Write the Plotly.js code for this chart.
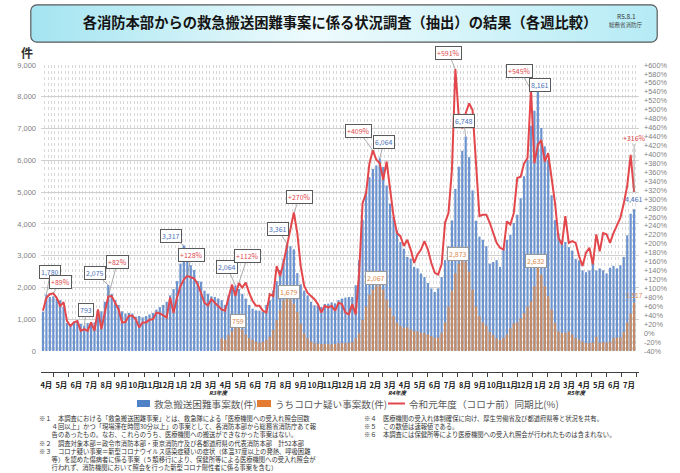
<!DOCTYPE html>
<html><head><meta charset="utf-8">
<script src="https://cdn.plot.ly/plotly-3.0.1.min.js"></script>
<style>html,body{margin:0;padding:0;background:#fff;}#chart{width:680px;height:473px;}</style>
</head><body><div id="chart"></div>
<script>
// ---- data (weekly, first survey week starting 2020-04-06) ----
const firstWeekMid = Date.UTC(2020, 3, 9);
const blueCounts = [
 1240,1780,1700,1720,1650,1600,1400,880,820,920,
 960,860,793,880,870,900,1080,1250,1550,2075,
 1800,1600,1450,1250,1180,1200,1180,1080,1100,1060,
 1100,1150,1200,1300,1380,1450,1550,1750,1950,2200,
 2750,3317,2900,2700,2550,2200,2180,1900,1800,1720,
 1700,1650,1600,1450,1750,2000,2064,1950,1800,1650,
 1450,1330,1280,1270,1230,1450,1600,1900,2200,2550,
 2900,3361,3300,3200,2450,2100,1900,1750,1550,1440,
 1430,1390,1480,1490,1530,1500,1600,1650,1680,1700,
 1700,2070,2860,4130,5000,5470,5730,5840,6064,5790,
 5210,4640,4220,3800,3430,3220,2960,2910,2650,2600,
 2440,2330,2140,1970,1860,1970,2330,2860,3300,4110,
 5100,5800,6300,6748,6100,5055,4100,3600,3500,3300,
 2750,2800,2860,2650,3240,3500,3660,4030,4290,4810,
 5500,6020,7090,7560,8161,7020,6440,6020,4900,4120,
 3700,3480,3430,3270,3160,2900,2850,2540,2480,2540,
 2900,2540,2600,2540,2440,2620,2680,2600,2700,2960,
 3640,4320,4461];
const covidCounts = [
 null,null,null,null,null,null,null,null,null,null,
 null,null,null,null,null,null,null,null,null,null,
 null,null,null,null,null,null,null,null,null,null,
 null,null,null,null,null,null,null,null,null,null,
 null,null,null,null,null,null,null,null,null,null,
 null,null,
 400,360,500,620,730,759,680,520,400,350,
 300,260,290,350,450,660,970,1280,1590,1679,
 1620,1490,1230,860,550,400,300,250,230,220,
 220,220,210,220,240,250,250,260,280,400,
 560,980,1400,1770,1930,2040,2067,1930,1620,1360,
 1100,890,790,730,750,680,620,620,570,570,
 520,470,410,430,570,900,1400,1900,2450,2750,
 2873,2800,2500,1930,1400,1100,900,800,600,500,
 400,350,420,520,710,870,900,1030,1190,1400,
 1560,2040,2632,2400,2040,1720,1300,880,620,570,
 570,620,520,410,360,300,250,250,270,450,
 260,280,270,290,410,420,430,600,900,1180,
 1517];
const ratioPct = [
 50,79,87,89,79,61,69,27,16,24,
 27,5,9,5,24,5,53,9,46,82,
 83,69,53,24,25,39,39,31,13,24,
 24,30,31,46,44,40,35,80,45,80,
 105,120,128,125,122,110,90,68,62,76,
 68,61,53,50,80,109,83,112,102,113,
 90,72,61,61,50,46,87,83,150,128,
 158,195,232,270,224,150,106,90,83,76,
 65,46,61,57,61,50,68,65,46,42,
 65,42,135,291,313,380,409,388,380,343,
 384,321,262,224,217,195,209,187,157,176,
 187,206,187,157,135,131,154,247,269,366,
 591,484,458,492,514,499,380,262,265,265,
 247,224,202,191,187,250,243,269,347,350,
 380,392,545,380,421,432,384,403,343,291,
 213,198,262,202,206,202,172,150,180,191,
 154,221,183,224,221,202,224,243,258,290,
 330,399,316];
const seriesNames = ['救急搬送困難事案数(件)', 'うちコロナ疑い事案数(件)', '令和元年度（コロナ前）同期比(%)'];
const fiscalYears = [['2020-04-01','R2年度'],['2021-04-01','R3年度'],['2022-04-01','R4年度'],['2023-04-01','R5年度']];
const pctTicks = [];
for (let v = -40; v <= 600; v += 20) pctTicks.push(v);
const pctTickText = pctTicks.map(v => (v > 0 ? '+' : '') + v + '%');

const dates = blueCounts.map((_, i) => new Date(firstWeekMid + i * 7 * 86400000).toISOString().slice(0, 10));

const FONT = '"Noto Sans CJK JP", "Noto Sans", sans-serif';
const NUMFONT = '"Liberation Sans", Arial, sans-serif';
const BLUE = '#6b93d0', ORANGE = '#c48b66', RED = '#e3474b';
const px = v => (v - 41) / 598;
const py = v => (372 - v) / 307;

const traces = [
  {type:'bar', name:seriesNames[0], x:dates, y:blueCounts, xaxis:'x', yaxis:'y',
   marker:{color:BLUE, line:{width:0}}, showlegend:false, hoverinfo:'x+y'},
  {type:'bar', name:seriesNames[1], x:dates, y:covidCounts, xaxis:'x', yaxis:'y',
   marker:{color:ORANGE, line:{width:0}}, showlegend:false, hoverinfo:'x+y'},
  {type:'scatter', mode:'lines', name:seriesNames[2], x:dates, y:ratioPct, xaxis:'x2', yaxis:'y2',
   line:{color:RED, width:2}, showlegend:false, hoverinfo:'x+y'}
];

const fmt = v => v.toLocaleString('en-US');
const ann = [];
function lab(kind, i, ax, ay, boxed) {
  let x = dates[i], y, text, color, xref = 'x', yref = 'y', bc = '#5a5a5a';
  if (kind === 'b') { y = blueCounts[i]; text = fmt(y); color = '#4a72b8'; }
  else if (kind === 'o') { y = covidCounts[i]; text = fmt(y); color = '#d98a4e'; bc = '#9a9a9a'; }
  else { y = ratioPct[i]; text = '+' + y + '%'; color = '#e0474c'; xref = 'x2'; yref = 'y2'; }
  ann.push({xref, yref, x, y, text, showarrow:true, arrowhead:0, arrowwidth:0.7, arrowcolor:'#8a8a8a',
    ax, ay, standoff:0, font:{size:7, color, family:FONT},
    bgcolor: boxed ? '#ffffff' : 'rgba(0,0,0,0)', bordercolor: boxed ? bc : 'rgba(0,0,0,0)',
    borderwidth: boxed ? 1 : 0, borderpad: 1});
}
lab('b', 1, 4, -22, true);
lab('r', 3, 7, -11, true);
lab('b', 12, 2, -16, true);
lab('b', 19, -13, -12, true);
lab('r', 19, 9, -34, true);
lab('b', 41, -13, -10, true);
lab('r', 42, 4, -21, true);
lab('b', 56, -8, -18, true);
lab('r', 57, 9, -27, true);
lab('o', 57, -1, -6, true);
lab('b', 71, -9, -15, true);
lab('r', 73, 6, -15, true);
lab('o', 71, 2, -6, true);
lab('r', 96, -14, -19, true);
lab('b', 98, 4, -16, true);
lab('o', 98, -4, -7, true);
lab('r', 120, -7, -16, true);
lab('b', 123, -2, -16, true);
lab('o', 122, -4, -6, true);
lab('r', 142, -11, -19, true);
lab('b', 144, 2, -7, true);
lab('o', 144, -2, -6, true);
lab('r', 172, 0, -54, false);
const last = blueCounts.length - 1;
ann.push({xref:'x', yref:'y', x:dates[last], y:blueCounts[last], text:fmt(blueCounts[last]), showarrow:false,
  xanchor:'center', yanchor:'middle', yshift:10, font:{size:7, color:'#4a72b8', family:FONT}});
ann.push({xref:'x', yref:'y', x:dates[last], y:covidCounts[last], text:fmt(covidCounts[last]), showarrow:false,
  xanchor:'center', yanchor:'middle', xshift:0, yshift:7, font:{size:6.5, color:'#d98a4e', family:NUMFONT}});

function pann(x, y, text, font, xanchor, yanchor) {
  ann.push({xref:'paper', yref:'paper', x:px(x), y:py(y), text, showarrow:false,
    xanchor: xanchor || 'center', yanchor: yanchor || 'middle', align:'left', font});
}
// fiscal year marks under April
fiscalYears.forEach(([d, t]) => ann.push({xref:'x2', yref:'paper', x:d, y:py(392.5), text:t, showarrow:false,
  xanchor:'center', yanchor:'middle', font:{size:5.5, color:'#111', family:FONT, weight:'bold', style:'italic'}}));

pann(27, 53, '件', {size:12, color:'#333', family:FONT, weight:'bold'});
pann(626, 16, 'R5.8.1', {size:6.5, color:'#333', family:FONT});
pann(626, 25.5, '総務省消防庁', {size:5.5, color:'#444', family:FONT});

// manual legend
const shapes = [];
const legY = 403.5;
const LF = {size:9.6, color:'#595959', family:FONT};
shapes.push({type:'rect', xref:'paper', yref:'paper', x0:px(137), x1:px(150), y0:py(400), y1:py(407), fillcolor:'#4f81c7', line:{width:0}});
pann(152, legY, seriesNames[0], LF, 'left');
shapes.push({type:'rect', xref:'paper', yref:'paper', x0:px(257), x1:px(271), y0:py(400), y1:py(407), fillcolor:'#e47b32', line:{width:0}});
pann(273, legY, seriesNames[1], LF, 'left');
shapes.push({type:'line', xref:'paper', yref:'paper', x0:px(388), x1:px(405), y0:py(legY), y1:py(legY), line:{color:RED, width:2}});
pann(407, legY, seriesNames[2], LF, 'left');

// footnotes
const notesLeft = [
  '※１　本調査における「救急搬送困難事案」とは、救急隊による「医療機関への受入れ照会回数',
  '　　４回以上」かつ「現場滞在時間30分以上」の事案として、各消防本部から総務省消防庁あて報',
  '　　告のあったもの。なお、これらのうち、医療機関への搬送ができなかった事案はない。',
  '※２　調査対象本部＝政令市消防本部・東京消防庁及び各都道府県の代表消防本部　計52本部',
  '※３　コロナ疑い事案＝新型コロナウイルス感染症疑いの症状（体温37度以上の発熱、呼吸困難',
  '　　等）を認めた傷病者に係る事案（５類移行により、保健所等による医療機関への受入れ照会が',
  '　　行われず、消防機関において照会を行った新型コロナ陽性者に係る事案を含む）'
];
const notesRight = [
  '※４　医療機関の受入れ体制確保に向け、厚生労働省及び都道府県等と状況を共有。',
  '※５　この数値は速報値である。',
  '※６　本調査には保健所等により医療機関への受入れ照会が行われたものは含まれない。'
];
const NF = {size:6.3, color:'#333', family:FONT};
pann(37, 411.5, notesLeft.join('<br>'), NF, 'left', 'top');
pann(362, 411.5, notesRight.join('<br>'), NF, 'left', 'top');

// title banner (gradient rounded box)
const svg = "<svg xmlns='http://www.w3.org/2000/svg' width='628' height='39' viewBox='0 0 628 39'>" +
  "<defs><linearGradient id='g' x1='0' x2='1' y1='0' y2='0'>" +
  "<stop offset='0' stop-color='#a3e4f1'/><stop offset='0.45' stop-color='#eefbfd'/><stop offset='1' stop-color='#b5ebf5'/>" +
  "</linearGradient></defs><rect x='0.8' y='0.8' width='626.4' height='37.4' rx='6' ry='6' fill='url(#g)' stroke='#5a5a5a' stroke-width='1.2'/></svg>";
const images = [{source:'data:image/svg+xml;charset=utf-8,' + encodeURIComponent(svg), xref:'paper', yref:'paper',
  x:px(30), y:py(4), sizex:628/598, sizey:39/307, xanchor:'left', yanchor:'top', sizing:'stretch', layer:'below'}];

const XR = ['2020-04-05', '2023-08-06'];
const layout = {
  width:680, height:473,
  margin:{l:41, r:41, t:65, b:101, pad:0},
  paper_bgcolor:'#ffffff', plot_bgcolor:'#ffffff',
  font:{family:FONT, color:'#595959'},
  title:{text:'各消防本部からの救急搬送困難事案に係る状況調査（抽出）の結果（各週比較）',
    x:0.5, xref:'container', xanchor:'center', y:1 - 23/473, yref:'container', yanchor:'middle',
    font:{size:14.3, color:'#141414', family:FONT, weight:'bold'}},
  barmode:'overlay', bargap:0.36,
  showlegend:false,
  xaxis:{type:'date', range:XR, anchor:'y', showticklabels:false, ticks:'', showline:false, zeroline:false,
    showgrid:true, gridcolor:'#d8d8d8', griddash:'dot', gridwidth:1, tick0:'2020-04-05 12:00', dtick:7*86400000,
    automargin:false},
  xaxis2:{type:'date', range:XR, overlaying:'x', anchor:'free', position:0, side:'bottom',
    tick0:'2020-04-01', dtick:'M1', ticklabelmode:'period', tickformat:'%-m月', tickangle:0,
    ticks:'outside', ticklen:4, tickcolor:'#404040', tickwidth:1, automargin:false, ticklabelstandoff:2,
    showline:true, linecolor:'#404040', linewidth:1, showgrid:false, zeroline:false,
    tickfont:{size:7.5, color:'#222', family:FONT, weight:'bold'}},
  yaxis:{domain:[21/307, 1], range:[0, 9000], dtick:1000, tickformat:',d', showgrid:true, gridcolor:'#d0d0d0',
    zeroline:false, showline:false, ticks:'', ticklabelstandoff:4, automargin:false,
    tickfont:{size:7.5, color:'#7f7f7f', family:NUMFONT}},
  yaxis2:{domain:[21/307, 1], overlaying:'y', side:'right', anchor:'x', range:[-40, 600], tickvals:pctTicks, ticktext:pctTickText,
    showgrid:false, zeroline:false, showline:false, ticks:'', ticklabelstandoff:4, automargin:false,
    tickfont:{size:7.3, color:'#7f7f7f', family:NUMFONT}},
  annotations:ann, shapes:shapes, images:images
};
Plotly.newPlot('chart', traces, layout, {displayModeBar:false, staticPlot:true});
</script></body></html>
